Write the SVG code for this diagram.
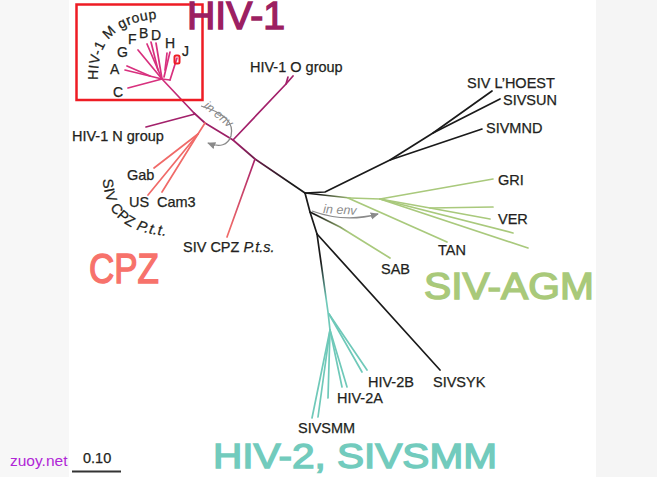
<svg xmlns="http://www.w3.org/2000/svg" width="657" height="477" viewBox="0 0 657 477">
<style>
.lbl{font-family:"Liberation Sans",Arial,sans-serif;font-size:14.5px;fill:#231f20;stroke:#231f20;stroke-width:0.25}
.ml{font-family:"Liberation Sans",Arial,sans-serif;font-size:14px;fill:#231f20;stroke:#231f20;stroke-width:0.25}
.big{font-family:"Liberation Sans",Arial,sans-serif;stroke-width:1.4}
.env{font-family:"Liberation Sans",Arial,sans-serif;font-size:12.5px;font-style:italic;fill:#8a8a8a}
.br{fill:none;stroke-width:1.7;stroke-linecap:round;stroke-linejoin:round}
.k{stroke:#1a1a1a}
.g{stroke:#a9c97c}
.t{stroke:#6fc9b9}
.m{stroke:#d8307e}
.mg{stroke:#a3216b}
.s{stroke:#f06a68}
.arr{fill:none;stroke:#8a8a8a;stroke-width:1.3}
</style>
<defs>
<linearGradient id="gTrunk" gradientUnits="userSpaceOnUse" x1="290" y1="182" x2="236" y2="142">
<stop offset="0" stop-color="#1a1a1a"/><stop offset="1" stop-color="#9c1f66"/></linearGradient>
<linearGradient id="gPts" gradientUnits="userSpaceOnUse" x1="255" y1="160" x2="230" y2="230">
<stop offset="0" stop-color="#a8226a"/><stop offset="1" stop-color="#f06a68"/></linearGradient>
<linearGradient id="gAgm" gradientUnits="userSpaceOnUse" x1="318" y1="194" x2="352" y2="198">
<stop offset="0" stop-color="#1a1a1a"/><stop offset="1" stop-color="#a9c97c"/></linearGradient>
<linearGradient id="gSab" gradientUnits="userSpaceOnUse" x1="315" y1="214" x2="348" y2="232">
<stop offset="0" stop-color="#1a1a1a"/><stop offset="1" stop-color="#a9c97c"/></linearGradient>
<linearGradient id="gH2" gradientUnits="userSpaceOnUse" x1="320" y1="262" x2="327" y2="300">
<stop offset="0" stop-color="#1a1a1a"/><stop offset="1" stop-color="#6fc9b9"/></linearGradient>
<linearGradient id="gM" gradientUnits="userSpaceOnUse" x1="195" y1="114" x2="160" y2="78">
<stop offset="0" stop-color="#a3216b"/><stop offset="1" stop-color="#d8307e"/></linearGradient>
<marker id="ah" viewBox="0 0 10 10" refX="8" refY="5" markerWidth="7" markerHeight="7" orient="auto-start-reverse">
<path d="M0,1 L9,5 L0,9 z" fill="#8a8a8a"/></marker>
<path id="pPtt" d="M 103,179 Q 105,238 182,236"/>
<path id="pM" d="M 98,80 C 97,44 112,19 172,18"/>
</defs>
<rect x="0" y="0" width="657" height="477" fill="#ffffff"/>
<rect x="0" y="0" width="69" height="477" fill="#f7f7f7"/>
<rect x="596" y="0" width="61" height="477" fill="#f5f5f5"/>

<g id="connectors">
<polyline class="br" stroke="url(#gTrunk)" points="305,193 255,159 233,140 205,123 194,113"/>
<polyline class="br" stroke="url(#gM)" points="194,113 162,79"/>
<line class="br mg" x1="195" y1="114" x2="146" y2="127"/>
<polyline class="br mg" points="233,140 286,84 293,76"/>
<line class="br mg" x1="286" y1="84" x2="288" y2="77"/>
<polyline class="br s" points="205,123 198,134 154,168"/>
<line class="br s" x1="198" y1="134" x2="148" y2="195"/>
<line class="br s" x1="198" y1="134" x2="162" y2="192"/>
<line class="br" stroke="url(#gPts)" x1="255" y1="159" x2="227" y2="237"/>
<g class="br m">
<line x1="162" y1="79" x2="128" y2="88"/>
<line x1="162" y1="79" x2="125" y2="70"/>
<line x1="150" y1="76" x2="127" y2="66"/>
<line x1="162" y1="79" x2="138" y2="50"/>
<line x1="162" y1="79" x2="147" y2="44"/>
<line x1="158" y1="70" x2="151" y2="42"/>
<line x1="162" y1="79" x2="156" y2="43"/>
<line x1="164" y1="77" x2="170" y2="52"/>
<line x1="165" y1="70" x2="167" y2="53"/>
<line x1="170" y1="80" x2="177" y2="58"/>
<line x1="170" y1="80" x2="162" y2="79"/>
</g>
<polyline class="br k" points="305,193 325,192 390,160 433,133 492,91"/>
<line class="br k" x1="433" y1="133" x2="500" y2="99"/>
<line class="br k" x1="390" y1="160" x2="482" y2="129"/>
<polyline class="br" stroke="url(#gAgm)" points="305,193 350,198"/>
<line class="br g" x1="348" y1="198" x2="447" y2="242"/>
<polyline class="br g" points="350,198 380,199 493,179"/>
<polyline class="br g" points="380,199 430,208 493,207"/>
<line class="br g" x1="430" y1="208" x2="490" y2="219"/>
<line class="br g" x1="380" y1="199" x2="513" y2="233"/>
<line class="br g" x1="380" y1="199" x2="528" y2="248"/>
<polyline class="br k" points="305,193 310,212 317,234"/>
<polyline class="br" stroke="url(#gSab)" points="310,212 340,227 390,258"/>
<line class="br k" x1="317" y1="234" x2="440" y2="370"/>
<polyline class="br" stroke="url(#gH2)" points="317,234 328,312 330,330"/>
<g class="br t">
<line x1="329" y1="314" x2="367" y2="370"/>
<line x1="329" y1="314" x2="362" y2="372"/>
<line x1="330" y1="330" x2="347" y2="387"/>
<line x1="330" y1="330" x2="342" y2="387"/>
<line x1="330" y1="330" x2="328" y2="398"/>
<line x1="330" y1="330" x2="318" y2="417"/>
<line x1="330" y1="330" x2="312" y2="418"/>
</g>
<path class="arr" d="M 201,106 Q 236,116 231,136 Q 226,150 208,143" marker-end="url(#ah)"/>
<path class="arr" d="M 312,211 Q 345,223 378,214" marker-end="url(#ah)"/>
<line x1="72" y1="471.5" x2="121" y2="471.5" stroke="#333" stroke-width="2"/>
</g>

<g id="mbox">
<rect x="76.5" y="4.5" width="126" height="95.5" fill="none" stroke="#ee1c24" stroke-width="2.5"/>
<rect x="174.5" y="55.5" width="5" height="8" rx="1.5" fill="none" stroke="#ee1c24" stroke-width="2"/>
</g>

<g id="m-labels">
<text class="ml" letter-spacing="0.5"><textPath href="#pM">HIV-1 M group</textPath></text>
<text class="ml" x="113" y="97">C</text>
<text class="ml" x="110" y="74">A</text>
<text class="ml" x="117" y="57">G</text>
<text class="ml" x="128" y="44">F</text>
<text class="ml" x="139" y="38">B</text>
<text class="ml" x="151" y="40">D</text>
<text class="ml" x="165" y="48">H</text>
<text class="ml" x="182" y="56">J</text>
</g>

<g id="node-o"><text class="lbl" x="250" y="72">HIV-1 O group</text></g>
<g id="node-n"><text class="lbl" x="72" y="141">HIV-1 N group</text></g>
<g id="node-gab"><text class="lbl" x="127" y="180">Gab</text></g>
<g id="node-us"><text class="lbl" x="129" y="207">US</text></g>
<g id="node-cam3"><text class="lbl" x="157" y="207">Cam3</text></g>
<g id="node-ptt"><text class="lbl" letter-spacing="0.5"><textPath href="#pPtt">SIV CPZ <tspan font-style="italic">P.t.t.</tspan></textPath></text></g>
<g id="node-pts"><text class="lbl" x="183" y="252">SIV CPZ <tspan font-style="italic">P.t.s.</tspan></text></g>
<g id="node-lhoest"><text class="lbl" x="467" y="88">SIV L’HOEST</text></g>
<g id="node-sun"><text class="lbl" x="503" y="105">SIVSUN</text></g>
<g id="node-mnd"><text class="lbl" x="486" y="133">SIVMND</text></g>
<g id="node-gri"><text class="lbl" x="498" y="185">GRI</text></g>
<g id="node-ver"><text class="lbl" x="498" y="224">VER</text></g>
<g id="node-tan"><text class="lbl" x="438" y="255">TAN</text></g>
<g id="node-sab"><text class="lbl" x="381" y="274">SAB</text></g>
<g id="node-2b"><text class="lbl" x="368" y="387">HIV-2B</text></g>
<g id="node-syk"><text class="lbl" x="433" y="387">SIVSYK</text></g>
<g id="node-2a"><text class="lbl" x="337" y="403">HIV-2A</text></g>
<g id="node-smm"><text class="lbl" x="298" y="433">SIVSMM</text></g>

<g id="env-labels">
<text class="env" transform="translate(203,107) rotate(39)">in env</text>
<text class="env" transform="translate(323,213) rotate(3)">in env</text>
</g>

<g id="group-labels">
<text class="big" x="187" y="29" font-size="38" fill="#9c1f62" stroke="#9c1f62" textLength="98" lengthAdjust="spacingAndGlyphs">HIV-1</text>
<text class="big" x="89" y="283" font-size="42" fill="#f7726b" stroke="#f7726b" textLength="70" lengthAdjust="spacingAndGlyphs">CPZ</text>
<text class="big" x="424" y="299" font-size="36" fill="#a9c97a" stroke="#a9c97a" textLength="170" lengthAdjust="spacingAndGlyphs">SIV-AGM</text>
<text class="big" x="213" y="468" font-size="35" fill="#72cbbd" stroke="#72cbbd" textLength="284" lengthAdjust="spacingAndGlyphs">HIV-2, SIVSMM</text>
</g>

<g id="scale">
<text class="lbl" x="83" y="463" font-size="13.5" fill="#333">0.10</text>
</g>
<g id="watermark">
<text x="10" y="466" font-family="'Liberation Sans',Arial,sans-serif" font-size="15.5" fill="#b026d6">zuoy.net</text>
</g>
</svg>
